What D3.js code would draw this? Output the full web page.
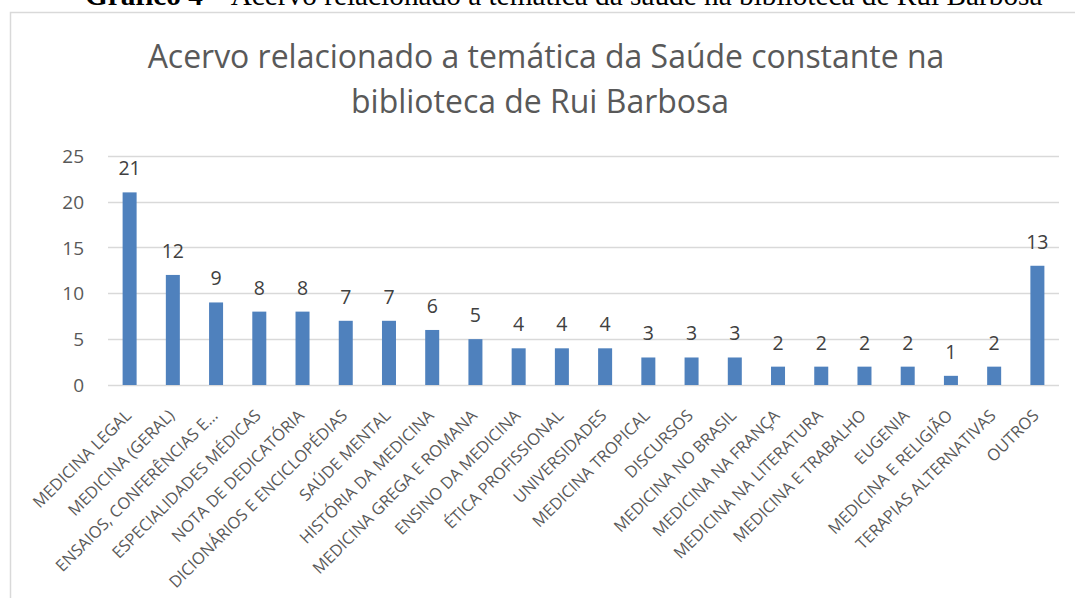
<!DOCTYPE html>
<html>
<head>
<meta charset="utf-8">
<script src="https://cdn.jsdelivr.net/npm/d3@7/dist/d3.min.js"></script>
<style>
  html, body { margin: 0; padding: 0; background: #fff; overflow: hidden; }
  svg { display: block; }
</style>
</head>
<body>
<svg id="chart" width="1075" height="598"></svg>
<script>
const categories = [
  "MEDICINA LEGAL", "MEDICINA (GERAL)", "ENSAIOS, CONFERÊNCIAS E…", "ESPECIALIDADES MÉDICAS",
  "NOTA DE DEDICATÓRIA", "DICIONÁRIOS E ENCICLOPÉDIAS", "SAÚDE MENTAL", "HISTÓRIA DA MEDICINA",
  "MEDICINA GREGA E ROMANA", "ENSINO DA MEDICINA", "ÉTICA PROFISSIONAL", "UNIVERSIDADES",
  "MEDICINA TROPICAL", "DISCURSOS", "MEDICINA NO BRASIL", "MEDICINA NA FRANÇA",
  "MEDICINA NA LITERATURA", "MEDICINA E TRABALHO", "EUGENIA", "MEDICINA E RELIGIÃO",
  "TERAPIAS ALTERNATIVAS", "OUTROS"
];
const values = [21, 12, 9, 8, 8, 7, 7, 6, 5, 4, 4, 4, 3, 3, 3, 2, 2, 2, 2, 1, 2, 13];
const yTicks = [0, 5, 10, 15, 20, 25];
const titleLines = ["Acervo relacionado a temática da Saúde constante na", "biblioteca de Rui Barbosa"];
const captionBold = "Gráfico 4";
const captionRest = " – Acervo relacionado a temática da saúde na biblioteca de Rui Barbosa";

const svg = d3.select("#chart");
const FONT = "'Open Sans', 'Noto Sans', sans-serif";

function fitSize(sel, base, target) {
  sel.attr("font-size", base);
  const w = sel.node().getComputedTextLength();
  const s = base * target / w;
  sel.attr("font-size", s);
  return s;
}

// Caption (cut off at top, as in the source page)
const cap = svg.append("text")
  .attr("x", 85).attr("y", 5)
  .attr("font-family", "'Liberation Serif', 'Times New Roman', serif")
  .attr("fill", "#000");
cap.append("tspan").attr("font-weight", "bold").text(captionBold);
cap.append("tspan").text(captionRest);
fitSize(cap, 20, 958);

// Chart frame (partial)
svg.append("path")
  .attr("d", "M10.5,598 L10.5,12.5 L1075,12.5")
  .attr("fill", "none").attr("stroke", "#d9d9d9").attr("stroke-width", 1.5);

// Title
const t1 = svg.append("text").attr("x", 546).attr("y", 68)
  .attr("text-anchor", "middle").attr("font-family", FONT).attr("fill", "#595959")
  .text(titleLines[0]);
const ts = fitSize(t1, 28, 797);
svg.append("text").attr("x", 540).attr("y", 113)
  .attr("text-anchor", "middle").attr("font-family", FONT).attr("fill", "#595959")
  .attr("font-size", ts).text(titleLines[1]);

// Scales
const x = d3.scaleBand().domain(categories).range([108, 1059])
  .paddingInner(0.676).paddingOuter(0.338);
const y = d3.scaleLinear().domain([0, 25]).range([385, 155.7]);

// Gridlines
svg.append("g").selectAll("line").data(yTicks).join("line")
  .attr("x1", 108).attr("x2", 1059)
  .attr("y1", d => Math.round(y(d)) + 0.5).attr("y2", d => Math.round(y(d)) + 0.5)
  .attr("stroke", "#d9d9d9").attr("stroke-width", 1.3);

// Y axis labels
const yAxis = d3.axisLeft(y).tickValues(yTicks).tickSize(0).tickPadding(0);
const gy = svg.append("g").attr("transform", "translate(84,0)").call(yAxis);
gy.select(".domain").remove();
gy.selectAll("text").attr("font-family", FONT).attr("font-size", 19).attr("fill", "#595959")
  .attr("dy", "0.35em");

// Bars
svg.append("g").selectAll("rect").data(values).join("rect")
  .attr("x", (d, i) => x(categories[i]))
  .attr("width", x.bandwidth())
  .attr("y", d => y(d))
  .attr("height", d => y(0) - y(d))
  .attr("fill", "#4f81bd");

// Data labels
svg.append("g").selectAll("text").data(values).join("text")
  .attr("x", (d, i) => x(categories[i]) + x.bandwidth() / 2)
  .attr("y", d => y(d) - 17)
  .attr("text-anchor", "middle")
  .attr("font-family", FONT).attr("font-size", 19.5).attr("fill", "#404040")
  .text(d => d);

// X labels
const gx = svg.append("g");
const probe = gx.append("text").attr("font-family", FONT).text(categories[5]);
const xs = fitSize(probe, 14, 244);
probe.remove();
gx.selectAll("text.xl").data(categories).join("text").attr("class", "xl")
  .attr("transform", d => `translate(${x(d) + x.bandwidth() / 2 - 2},412) rotate(-45)`)
  .attr("text-anchor", "end")
  .attr("dominant-baseline", "central")
  .attr("font-family", FONT).attr("font-size", xs).attr("fill", "#595959")
  .text(d => d);
</script>
</body>
</html>
